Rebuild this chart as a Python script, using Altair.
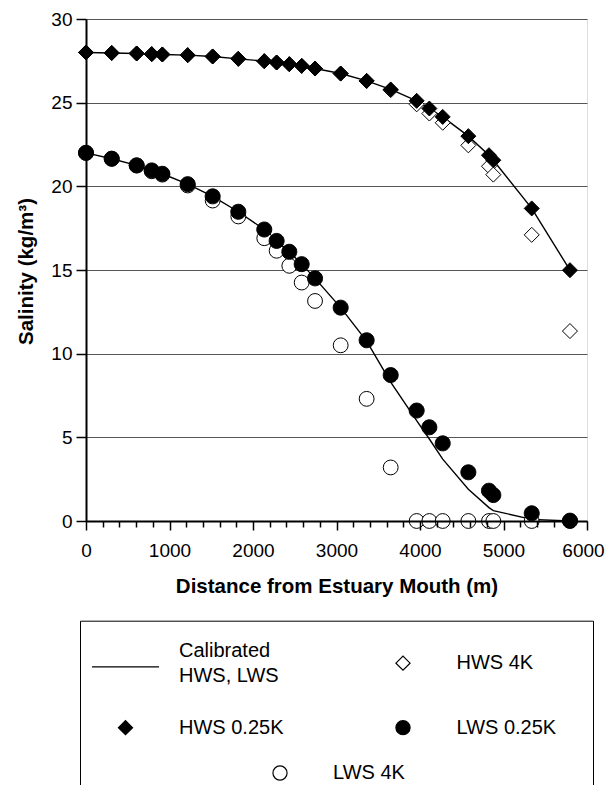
import altair as alt
import pandas as pd

FONT = "Liberation Sans"

# Station distances (m)
stations = [0, 308, 607, 787, 914, 1218, 1517, 1824, 2135, 2283, 2435, 2583, 2743,
            3050, 3361, 3649, 3960, 4112, 4272, 4579, 4826, 4878, 5338, 5796]

# Salinity (kg/m3)
hws_025k = [28.0, 27.97, 27.94, 27.9, 27.88, 27.84, 27.76, 27.62, 27.48, 27.4, 27.3, 27.2,
            27.04, 26.74, 26.3, 25.79, 25.11, 24.65, 24.15, 23.0, 21.86, 21.56, 18.68, 14.99]
hws_4k = [28.0, 27.97, 27.94, 27.9, 27.88, 27.84, 27.76, 27.62, 27.48, 27.4, 27.3, 27.2,
          27.04, 26.74, 26.3, 25.75, 24.9, 24.35, 23.8, 22.45, 21.2, 20.7, 17.1, 11.35]
lws_025k = [22.0, 21.65, 21.25, 20.95, 20.75, 20.13, 19.4, 18.48, 17.42, 16.74, 16.09, 15.35,
            14.5, 12.75, 10.8, 8.72, 6.6, 5.6, 4.64, 2.91, 1.81, 1.55, 0.46, 0.02]
lws_4k = [22.0, 21.65, 21.25, 20.9, 20.7, 20.05, 19.15, 18.2, 16.9, 16.15, 15.25, 14.25,
          13.15, 10.5, 7.3, 3.2, 0.0, 0.0, 0.0, 0.0, 0.0, 0.0, 0.0, 0.0]
cal_hws = [28.0, 27.97, 27.94, 27.9, 27.88, 27.84, 27.76, 27.62, 27.48, 27.4, 27.3, 27.2,
           27.04, 26.74, 26.3, 25.79, 25.11, 24.65, 24.15, 23.0, 21.86, 21.56, 18.68, 14.99]
cal_lws = [22.0, 21.65, 21.25, 20.95, 20.75, 20.13, 19.4, 18.48, 17.42, 16.74, 16.09, 15.35,
           14.5, 12.75, 10.75, 8.3, 6.0, 4.9, 3.7, 1.9, 0.8, 0.62, 0.1, 0.0]

series_order = ["Calibrated HWS, LWS", "HWS 4K", "HWS 0.25K", "LWS 0.25K", "LWS 4K"]
y_ticks = [0, 5, 10, 15, 20, 25, 30]
x_ticks = list(range(0, 6001, 200))

# symbol shapes (unit coords); extra moveTo points only widen the legend entry boxes
LINE = "M-4.74,0M-4.74,2.3L4.74,2.3"
DIAMOND = "M-4.74,0M-1,0L0,-1L1,0L0,1Z"
CIRCLE = "M-4.74,0M1,0A1,1,0,1,1,-1,0A1,1,0,1,1,1,0Z"
DIAMOND_R = DIAMOND + "M24.8,0"
CIRCLE_R = CIRCLE + "M24.8,0"
EMPTY = "M-4.74,0"
# the last grid slot is kept empty; "LWS 4K" gets its own centred legend row
shape_range = [LINE, DIAMOND_R, DIAMOND, CIRCLE_R, EMPTY]
fill_range = ["black", "white", "black", "black", "transparent"]
stroke_range = ["black", "black", "black", "black", "transparent"]

rows = []
for name, vals in [("HWS 4K", hws_4k), ("HWS 0.25K", hws_025k), ("LWS 0.25K", lws_025k)]:
    for xv, yv in zip(stations, vals):
        rows.append({"series": name, "x": xv, "y": yv})
points_df = pd.DataFrame(rows)

lws4k_df = pd.DataFrame({"entry": "LWS 4K", "x": stations, "y": lws_4k})

lrows = []
for name, vals in [("HWS", cal_hws), ("LWS", cal_lws)]:
    for xv, yv in zip(stations, vals):
        lrows.append({"curve": name, "x": xv, "y": yv})
lines_df = pd.DataFrame(lrows)

x_axis = alt.Axis(
    values=x_ticks, format="d",
    labelExpr="datum.value % 1000 === 0 ? datum.label : ''",
    labelOverlap=False, labelFlush=False, grid=False,
    tickSize={"condition": {"test": "datum.value % 1000 === 0", "value": 9}, "value": 6},
    labelOffset={"condition": {"test": "datum.value === 6000", "value": -4}, "value": 0},
    tickColor="black", tickWidth=1.5, domainColor="black", domainWidth=2,
    labelFont=FONT, labelFontSize=19, labelColor="black", labelPadding=11,
    title="Distance from Estuary Mouth (m)", titleFont=FONT, titleFontSize=20.5,
    titleFontWeight="bold", titleColor="black", titleX=250.5, titleY=71,
    titleAlign="center", titleBaseline="alphabetic", zindex=1,
)
y_axis = alt.Axis(
    values=y_ticks, grid=True, gridColor="#555555", gridWidth=1,
    tickSize=10, tickColor="black", tickWidth=1.5, domainColor="black", domainWidth=2,
    labelFont=FONT, labelFontSize=19, labelColor="black", labelPadding=4,
    title="Salinity (kg/m³)", titleFont=FONT, titleFontSize=20.5, titleFontWeight="bold",
    titleColor="black", titleAngle=270, titleX=-54, titleY=252,
    titleAlign="center", titleBaseline="alphabetic",
)

x_enc = alt.X("x:Q", scale=alt.Scale(domain=[0, 6000], nice=False), axis=x_axis)
y_enc = alt.Y("y:Q", scale=alt.Scale(domain=[0, 30], nice=False), axis=y_axis)

legend = alt.Legend(
    title=" ", titleFontSize=6, titlePadding=2,
    orient="none", legendX=-6, legendY=601.7, columns=2, direction="horizontal",
    strokeColor="black", padding=12,
    symbolSize=200, symbolStrokeColor="black", symbolStrokeWidth=1.2,
    symbolOffset=23.5, labelOffset=43.5,
    labelFont=FONT, labelFontSize=20, labelColor="black", labelLimit=300,
    columnPadding=82.5, rowPadding=32,
    labelExpr=("datum.label == 'Calibrated HWS, LWS' ? ['Calibrated', 'HWS, LWS'] : "
               "(datum.label == 'LWS 4K' ? '' : datum.label)"),
)

legend_lws4k = alt.Legend(
    title=None, orient="none", legendX=184, legendY=744, padding=0,
    symbolSize=200, symbolStrokeWidth=1.2,
    symbolOffset=0, labelOffset=43,
    labelFont=FONT, labelFontSize=20, labelColor="black",
)

lines = alt.Chart(lines_df).mark_line(color="black", strokeWidth=1.4).encode(
    x=x_enc, y=y_enc, detail="curve:N"
)

open_circles = alt.Chart(lws4k_df).mark_point(
    shape="circle", filled=False, fill="white", strokeWidth=1, size=220, opacity=1
).encode(
    x=x_enc, y=y_enc,
    color=alt.Color("entry:N", scale=alt.Scale(domain=["LWS 4K"], range=["black"]),
                    legend=legend_lws4k),
)

points = alt.Chart(points_df).mark_point(
    filled=True, strokeWidth=1, size=225, opacity=1
).encode(
    x=x_enc, y=y_enc,
    shape=alt.Shape("series:N", scale=alt.Scale(domain=series_order, range=shape_range), legend=legend),
    fill=alt.Fill("series:N", scale=alt.Scale(domain=series_order, range=fill_range), legend=legend),
    stroke=alt.Stroke("series:N", scale=alt.Scale(domain=series_order, range=stroke_range), legend=legend),
)

chart = alt.layer(lines, open_circles, points).properties(
    width=501, height=502,
    autosize=alt.AutoSizeParams(type="none"),
    padding={"left": 78, "top": 11, "right": 18, "bottom": 264},
    background="white",
).configure_view(
    stroke="black", strokeWidth=1
).configure(
    style={"guide-label": {"lineHeight": 25}}
)

chart.save("out.html", embed_options={"renderer": "svg", "actions": False})
